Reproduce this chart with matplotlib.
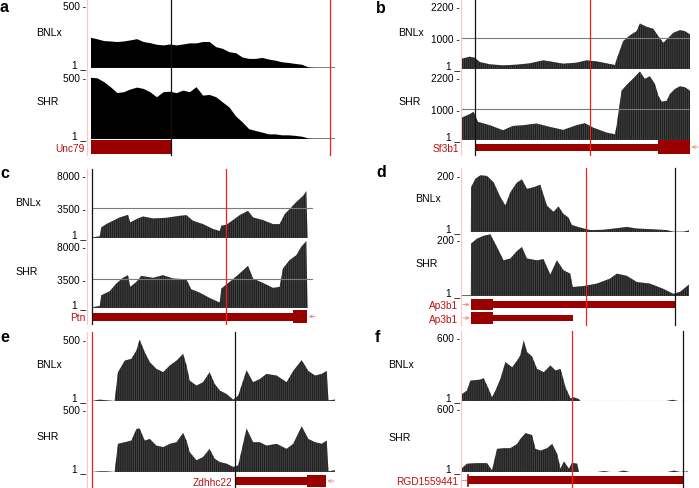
import numpy as np
import matplotlib.pyplot as plt
from matplotlib.lines import Line2D

plt.rcParams['font.family'] = ['Liberation Sans', 'DejaVu Sans']
plt.rcParams['hatch.linewidth'] = 0.5

W, H = 699, 489

# ---------------- data (positions are % of the browser window) ----------------
# a  Unc79, evenly spaced samples
a_bnlx = [222, 211, 198, 195, 191, 195, 203, 212, 191, 183, 171, 166, 173, 166, 173, 181, 181, 191, 191,
          153, 141, 116, 109, 77, 67, 67, 74, 62, 54, 42, 37, 30, 24, 5, 3, 3, 3, 3]
a_shr = [450, 446, 418, 381, 338, 344, 364, 378, 368, 344, 307, 344, 348, 337, 356, 344, 381, 319, 324,
         307, 269, 232, 166, 122, 72, 59, 47, 34, 34, 27, 27, 23, 17, 4, 3, 3, 3, 3]

# b  Sf3b1
b_bnlx_pos = [0, 3.4, 5.6, 7.8, 12.2, 18.0, 23.9, 29.7, 35.6, 38.5, 44.4, 50.2, 54.6, 59.0, 63.4, 67.1,
              67.8, 70.7, 73.6, 76.6, 78.0, 81.0, 83.9, 86.1, 88.3, 90.5, 92.7, 95.6, 97.8, 100]
b_bnlx = [329, 392, 360, 222, 149, 116, 138, 180, 275, 243, 169, 201, 275, 243, 180, 127,
          307, 889, 1069, 1207, 1450, 1345, 1281, 1048, 836, 995, 1154, 1238, 1207, 1101]
b_shr_pos = [0, 3.4, 5.1, 7.0, 12.2, 18.0, 22.4, 26.8, 32.7, 38.5, 44.4, 50.2, 53.9, 57.5, 63.4, 67.1,
             67.8, 70.0, 72.2, 75.1, 78.0, 80.2, 82.4, 84.6, 86.1, 87.6, 89.8, 91.2, 93.4, 95.6, 97.8, 100]
b_shr = [717, 824, 899, 578, 471, 311, 449, 471, 525, 418, 321, 471, 536, 396, 236, 182,
         449, 1573, 1755, 1962, 2183, 1948, 2033, 1787, 1413, 1220, 1252, 1466, 1626, 1712, 1680, 1573]

# c  Ptn
c_bnlx_pos = [0, 3.5, 4.2, 6.5, 9.5, 12.5, 16.3, 17.3, 20.1, 23.1, 27.6, 33.6, 39.7, 42.7, 45.7, 50.2,
              54.8, 57.8, 58.5, 60.8, 63.8, 66.8, 70.6, 72.9, 77.4, 81.9, 84.9, 87.2, 89.4, 92.5, 95.5,
              97.0, 97.5, 100]
c_bnlx = [77, 194, 1246, 1634, 2024, 2413, 2724, 1829, 2219, 2530, 2296, 2374, 2607, 2686, 2024, 1634,
          1051, 817, 1440, 1557, 2102, 2686, 3191, 2413, 2102, 1634, 1634, 2802, 3386, 4242, 4943,
          5526, 0, 0]
c_shr_pos = [0, 3.5, 4.2, 8.0, 11.0, 14.0, 16.3, 17.3, 20.1, 22.3, 27.6, 32.1, 36.7, 42.7, 44.9, 48.7,
             53.2, 57.8, 58.5, 62.3, 66.8, 70.6, 72.9, 78.9, 81.9, 84.9, 86.4, 89.4, 92.5, 94.7, 97.0,
             97.5, 100]
c_shr = [80, 239, 1519, 1998, 2917, 3596, 3916, 2517, 3117, 3836, 3596, 3916, 3516, 3436, 2237, 1838,
         1199, 639, 2318, 3117, 4116, 5035, 3516, 2797, 2398, 2517, 4714, 5713, 6313, 7313, 7992,
         0, 0]

# d  Ap3b1
d_bnlx_pos = [0, 3.9, 4.0, 5.9, 8.1, 11.0, 13.9, 16.9, 19.1, 21.3, 24.2, 26.4, 28.6, 31.5, 34.5, 37.4,
              40.3, 42.5, 44.7, 46.9, 48.4, 52.1, 56.5, 62.3, 68.2, 72.6, 77.0, 82.8, 90.2, 93.1, 97.5, 100]
d_bnlx = [0, 0, 142, 169, 180, 178, 158, 111, 84, 126, 157, 167, 137, 142, 150, 84,
          64, 81, 57, 46, 22, 14, 6, 7, 12, 16, 11, 9, 6, 1, 1, 5]
d_shr_pos = [0, 3.9, 4.0, 6.6, 9.5, 12.5, 15.4, 18.3, 21.3, 24.2, 26.4, 28.6, 33.0, 35.9, 38.9, 41.8,
             44.7, 47.7, 48.8, 53.5, 59.4, 65.2, 68.2, 72.6, 77.0, 82.8, 88.7, 93.1, 96.0, 100]
d_shr = [2, 2, 169, 185, 194, 199, 158, 115, 121, 145, 158, 121, 115, 119, 69, 115,
         83, 72, 29, 32, 40, 56, 72, 65, 45, 40, 23, 7, 13, 37]

# e  Zdhhc22
e_pos = [0, 3.2, 5.9, 9.3, 10.7, 13.5, 16.2, 18.3, 19.6, 21.7, 23.8, 26.5, 29.3, 32.0, 34.8, 37.5,
         38.9, 40.2, 43.0, 45.7, 48.4, 50.5, 52.6, 55.4, 58.1, 60.2, 63.6, 66.3, 69.1, 71.8, 76.0,
         80.1, 82.8, 86.3, 89.0, 91.8, 94.5, 96.6, 97.3, 100]
e_bnlx = [0, 10, 5, 0, 212, 297, 310, 371, 452, 359, 285, 236, 212, 261, 297, 347,
          261, 150, 113, 138, 212, 125, 77, 51, 10, 40, 226, 138, 162, 199, 187,
          138, 221, 300, 221, 187, 199, 221, 5, 10]
e_shr = [0, 5, 5, 0, 207, 219, 231, 316, 320, 231, 243, 194, 183, 207, 219, 287,
         230, 146, 86, 110, 170, 97, 73, 61, 37, 49, 320, 219, 219, 194, 207,
         170, 207, 336, 243, 219, 207, 231, 5, 13]

# f  RGD1559441
f_bnlx_pos = [0, 2.2, 3.7, 8.1, 9.6, 11.8, 13.3, 14.8, 17.0, 19.2, 22.2, 24.4, 25.8, 27.3, 28.8, 31.0,
              33.2, 36.2, 39.1, 41.4, 43.6, 45.8, 48.0, 49.5, 51.7, 52.4, 90.5, 93.1, 95.5, 100]
f_bnlx = [61, 90, 177, 186, 198, 104, 32, 90, 192, 338, 293, 352, 397, 527, 425, 387,
          279, 250, 309, 265, 279, 119, 23, 32, 17, 0, 0, 10, 0, 0]
f_shr_pos = [0, 2.2, 6.6, 11.1, 13.3, 15.5, 18.5, 21.4, 24.4, 25.8, 28.1, 31.0, 32.5, 34.7, 37.7, 39.9,
             42.1, 43.6, 45.1, 47.3, 48.7, 51.0, 51.7, 60.0, 62.8, 65.5, 69.0, 71.6, 74.0, 91.0, 93.8,
             96.5, 100]
f_shr = [34, 72, 77, 77, 14, 201, 207, 207, 244, 287, 338, 321, 201, 186, 207, 244,
         158, 29, 92, 29, 80, 72, 0, 0, 8, 0, 0, 12, 0, 0, 12, 0, 5]

# scale maxima and gridline values
tops = {'a': 500, 'b': 2200, 'c': 8000, 'd': 200, 'e': 500, 'f': 600}
mids = {'b': 1000, 'c': 3500}

# vertical marker lines (window %)
red_lines = {'a': 98.0, 'b': 56.1, 'c': 60.6, 'd': 54.6, 'e': 0.0, 'f': 48.7}
black_lines = {'a': 32.8, 'b': 5.7, 'c': 0.0, 'd': 93.8, 'e': 58.8, 'f': 97.8}

# gene models: (name, row, thin parts, thick parts, arrow)
genes = {
    'a': [('Unc79', 0, [], [(0, 32.8)], '')],
    'b': [('Sf3b1', 0, [(5.7, 86.0)], [(86.0, 100)], 'left')],
    'c': [('Ptn', 0, [(0, 91.0)], [(91.0, 97.3)], 'left')],
    'd': [('Ap3b1', 0, [(13.7, 93.8)], [(4.0, 13.7)], 'right'),
          ('Ap3b1', 1, [(13.7, 48.9)], [(4.0, 13.7)], 'right')],
    'e': [('Zdhhc22', 0, [(58.8, 88.5)], [(88.5, 96.3)], 'left')],
    'f': [('RGD1559441', 0, [], [(2.7, 97.8)], 'start')],
}

# ---------------- layout (pixels) ----------------
layout = {
    'a': dict(x0=91, x1=335, pink=87, span=(0, 156), tracks=[(1, 69), (72, 140)],
              names=(36, 33, 102), rows=[148], thick=14, thin=7, lab=(0, 11.5)),
    'b': dict(x0=462, x1=690, pink=461, span=(0, 156), tracks=[(1, 70), (72, 141)],
              names=(398, 33, 102), rows=[148], thick=14, thin=7, lab=(376, 13)),
    'c': dict(x0=92, x1=313, pink=87, span=(170, 325), tracks=[(171, 239), (242, 309)],
              names=(15, 203, 272), rows=[317.5], thick=13, thin=8, lab=(0, 178)),
    'd': dict(x0=462, x1=689, pink=461, span=(169, 326), tracks=[(170, 233), (235, 297)],
              names=(415, 199, 264), rows=[305.5, 319], thick=11.5, thin=6.5, lab=(376, 177)),
    'e': dict(x0=92, x1=335, pink=87, span=(333, 489), tracks=[(334, 402), (405, 473)],
              names=(36, 365, 437), rows=[482], thick=12, thin=8, lab=(0, 342)),
    'f': dict(x0=462, x1=688, pink=461, span=(332, 489), tracks=[(333, 402), (404, 473)],
              names=(388, 365, 438), rows=[481], thick=8, thin=8, lab=(375, 342)),
}

coverage = {
    'a': [(np.linspace(0, 100, len(a_bnlx)), a_bnlx), (np.linspace(0, 100, len(a_shr)), a_shr)],
    'b': [(b_bnlx_pos, b_bnlx), (b_shr_pos, b_shr)],
    'c': [(c_bnlx_pos, c_bnlx), (c_shr_pos, c_shr)],
    'd': [(d_bnlx_pos, d_bnlx), (d_shr_pos, d_shr)],
    'e': [(e_pos, e_bnlx), (e_pos, e_shr)],
    'f': [(f_bnlx_pos, f_bnlx), (f_shr_pos, f_shr)],
}

GENE_RED = '#990000'
LABEL_RED = '#bb1111'
PINK = '#f09090'
FS = 7.3

fig = plt.figure(figsize=(W / 100, H / 100), dpi=100)


def px_axes(x0, x1, top, bottom):
    ax = fig.add_axes([x0 / W, 1 - bottom / H, (x1 - x0) / W, (bottom - top) / H])
    ax.axis('off')
    ax.set_xlim(0, 100)
    return ax


for key in 'abcdef':
    L = layout[key]
    x0, x1 = L['x0'], L['x1']
    lab_dx = L['pink'] - 1 - x0
    ymax = tops[key]

    # coverage tracks
    for (top, base), (pos, vals) in zip(L['tracks'], coverage[key]):
        ax = px_axes(x0, x1, top, base)
        ax.set_ylim(0, ymax)
        if key == 'a':
            ax.fill_between(pos, vals, 0, facecolor='black', linewidth=0)
            ax.axhline(0, color='#333333', lw=1.0)
        else:
            ax.fill_between(pos, vals, 0, facecolor='#202020', edgecolor='#4e4e4e',
                            linewidth=0, hatch='||||||||')
            ls = (0, (9, 3)) if key == 'f' else '-'
            ax.axhline(0, color='#8a8a8a', lw=0.8, ls=ls)
        if key in mids:
            ax.axhline(mids[key], color='#7a7a7a', lw=0.8, zorder=3)
            ax.annotate(f'{mids[key]} -', xy=(0, mids[key]), xycoords=('axes fraction', 'data'),
                        xytext=(lab_dx, 0), textcoords='offset pixels',
                        ha='right', va='center_baseline', fontsize=FS)
        ax.annotate(f'{ymax} -', xy=(0, 1), xycoords='axes fraction', xytext=(lab_dx, -9.5),
                    textcoords='offset pixels', ha='right', va='baseline', fontsize=FS)
        ax.annotate('1 _', xy=(0, 0), xycoords='axes fraction', xytext=(lab_dx, 1),
                    textcoords='offset pixels', ha='right', va='baseline', fontsize=FS)

    # track names
    nx, ny1, ny2 = L['names']
    fig.text(nx / W, 1 - ny1 / H, 'BNLx', ha='left', va='center', fontsize=7.6)
    fig.text(nx / W, 1 - ny2 / H, 'SHR', ha='left', va='center', fontsize=7.6)

    # gene track
    rows = L['rows']
    g_top = rows[0] - 8
    g_bot = rows[-1] + 8
    gax = px_axes(x0, x1, g_top, g_bot)
    gax.set_ylim(g_bot, g_top)
    for name, row, thin, thick, arrow in genes[key]:
        yc = rows[row]
        th, tn = L['thick'], L['thin']
        gax.broken_barh([(s, e - s) for s, e in thin], (yc - tn / 2, tn),
                        facecolor=GENE_RED, edgecolor='none')
        gax.broken_barh([(s, e - s) for s, e in thick], (yc - th / 2, th),
                        facecolor=GENE_RED, edgecolor='none')
        lx = lab_dx - 2 if arrow in ('right', 'start') else lab_dx - 1
        if key == 'e':
            lx = thin[0][0] / 100 * (x1 - x0) - 3
        gax.annotate(name, xy=(0, yc), xycoords=('axes fraction', 'data'), xytext=(lx, 0),
                     textcoords='offset pixels', ha='right', va='center_baseline',
                     fontsize=FS, color=LABEL_RED)
        arrow_style = dict(arrowstyle='->', color=PINK, lw=0.7, shrinkA=0, shrinkB=1,
                           mutation_scale=5)
        if arrow == 'left':
            end = max(e for s, e in thin + thick)
            gax.annotate('', xy=(end, yc), xycoords='data', xytext=(8, 0),
                         textcoords='offset pixels', arrowprops=arrow_style, annotation_clip=False)
        elif arrow == 'right':
            start = thick[0][0]
            gax.annotate('', xy=(start, yc), xycoords='data', xytext=(-8, 0),
                         textcoords='offset pixels', arrowprops=arrow_style, annotation_clip=False)
        elif arrow == 'start':
            start = thick[0][0]
            gax.plot([start - 3, start], [yc, yc], color=PINK, lw=0.8, clip_on=False)
            gax.plot([start, start], [yc - 5.5, yc + 5.5], color=GENE_RED, lw=1.2, clip_on=False)

    # vertical marker lines over the whole panel
    s0, s1 = L['span']
    vax = px_axes(x0, x1, s0, s1)
    vax.set_ylim(0, 1)
    vax.axvline(red_lines[key], color='#ff1a1a', lw=0.9, clip_on=False)
    vax.axvline(black_lines[key], color='#111111', lw=0.9, clip_on=False)
    fig.add_artist(Line2D([L['pink'] / W] * 2, [1 - s0 / H, 1 - s1 / H],
                          transform=fig.transFigure, color='#ffc4c4', lw=0.8))

    # panel letter
    lx, ly = L['lab']
    fig.text(lx / W, 1 - ly / H, key, ha='left', va='baseline', fontsize=11.5, fontweight='bold')

fig.savefig('out.png', dpi=100)
